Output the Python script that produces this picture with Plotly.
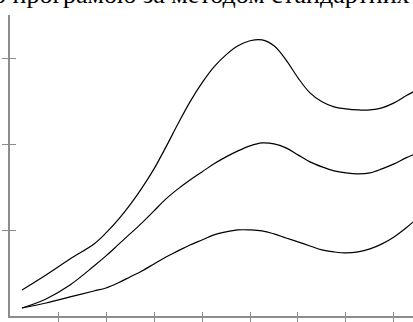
import plotly.graph_objects as go

x = [0.25, 0.75, 1.25, 1.75, 2.0, 2.25, 2.5, 2.75, 3.0, 3.25, 3.5, 3.75, 4.0, 4.25,
     4.5, 4.75, 5.0, 5.25, 5.5, 5.75, 6.0, 6.25, 6.5, 6.75, 7.0, 7.25, 7.5, 7.75,
     8.0, 8.25, 8.4]
upper = [0.312, 0.486, 0.672, 0.846, 0.973, 1.124, 1.298, 1.495, 1.716, 1.971,
         2.238, 2.493, 2.713, 2.899, 3.038, 3.143, 3.201, 3.212, 3.143, 2.980,
         2.771, 2.597, 2.493, 2.435, 2.412, 2.400, 2.400, 2.423, 2.481, 2.563, 2.609]
middle = [0.103, 0.208, 0.370, 0.590, 0.707, 0.834, 0.962, 1.089, 1.229, 1.368,
          1.484, 1.588, 1.681, 1.774, 1.855, 1.925, 1.983, 2.017, 2.006, 1.959,
          1.878, 1.797, 1.739, 1.693, 1.669, 1.658, 1.669, 1.716, 1.774, 1.843, 1.878]
lower = [0.103, 0.161, 0.231, 0.300, 0.335, 0.393, 0.463, 0.532, 0.614, 0.695,
         0.765, 0.834, 0.892, 0.950, 0.985, 1.008, 1.008, 0.997, 0.962, 0.915,
         0.869, 0.822, 0.776, 0.753, 0.741, 0.753, 0.788, 0.846, 0.927, 1.031, 1.101]
x_ticks = [1, 2, 3, 4, 5, 6, 7, 8]
y_ticks = [1, 2, 3]
title_text = "о програмою за методом стандартних"

fig = go.Figure()
for ys in (upper, middle, lower):
    fig.add_trace(go.Scatter(x=x, y=ys, mode="lines",
                             line=dict(color="black", width=1.2, shape="spline", smoothing=1.0),
                             showlegend=False, hoverinfo="skip"))
# invisible trace on overlay axes so their inside ticks are drawn
fig.add_trace(go.Scatter(x=[x[0]], y=[lower[0]], xaxis="x2", yaxis="y2", mode="markers",
                         marker=dict(opacity=0), showlegend=False, hoverinfo="skip"))

axcol = "#8c8c8c"
xr = [0, 8.396]
yr = [0.01, 3.5]
fig.update_layout(
    width=413, height=322,
    margin=dict(l=10, r=0, t=15, b=6),
    paper_bgcolor="white", plot_bgcolor="white",
    xaxis=dict(range=xr, showgrid=False, zeroline=False, showline=True, linecolor=axcol,
               linewidth=1.5, ticks="outside", ticklen=4, tickwidth=1.2, tickcolor=axcol,
               tickvals=x_ticks, showticklabels=False),
    yaxis=dict(range=yr, showgrid=False, zeroline=False, showline=True, linecolor=axcol,
               linewidth=1.5, ticks="outside", ticklen=6, tickwidth=1.2, tickcolor=axcol,
               tickvals=y_ticks, showticklabels=False),
    xaxis2=dict(range=xr, overlaying="x", showgrid=False, zeroline=False, showline=False,
                ticks="inside", ticklen=4, tickwidth=1.2, tickcolor=axcol,
                tickvals=x_ticks, showticklabels=False, anchor="y2"),
    yaxis2=dict(range=yr, overlaying="y", showgrid=False, zeroline=False, showline=False,
                ticks="inside", ticklen=6, tickwidth=1.2, tickcolor=axcol,
                tickvals=y_ticks, showticklabels=False, anchor="x2"),
    annotations=[dict(text=title_text, xref="paper", yref="paper", x=-0.047, y=1.012,
                      xanchor="left", yanchor="bottom", showarrow=False,
                      font=dict(family="Liberation Serif", size=26, color="black"))],
)
fig.write_html("out.html", config={"displayModeBar": False},
               post_script="document.body.style.margin='0';")
